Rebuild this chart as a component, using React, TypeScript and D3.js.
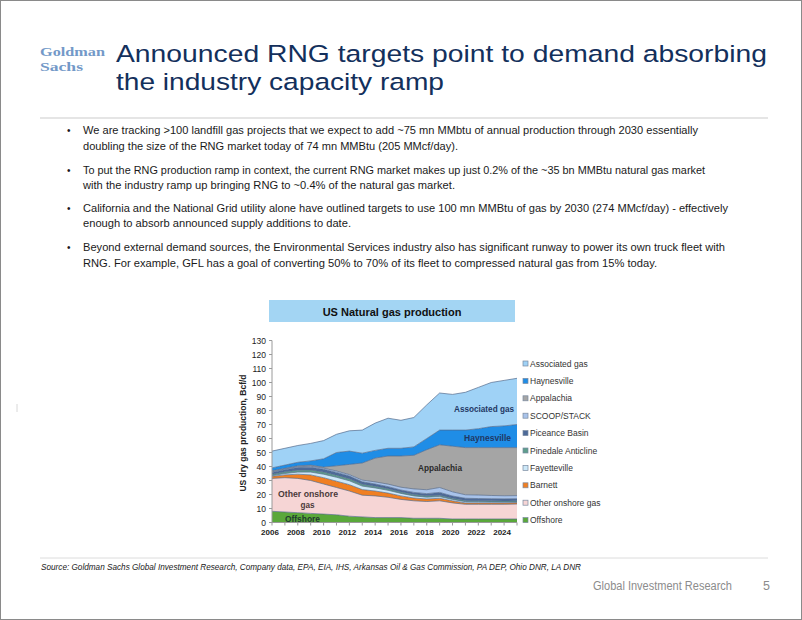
import React from "react";
import * as d3 from "d3";

const years = [2006, 2007, 2008, 2009, 2010, 2011, 2012, 2013, 2014, 2015, 2016, 2017, 2018, 2019, 2020, 2021, 2022, 2023, 2024, 2025];
const offshore = [8, 7.5, 7, 6.5, 6, 5.5, 4.5, 4, 3.5, 3.5, 3.5, 3, 3, 3, 2.5, 2.5, 2.5, 2.5, 2.5, 2.5];
const otherOnshore = [23.5, 24.5, 24.5, 23.5, 21.5, 19.5, 18, 15.5, 15.5, 14.5, 13, 12.5, 12, 12.5, 11.5, 10.5, 10.5, 10.5, 10.5, 10.7];
const barnett = [1.5, 2, 3, 4, 4.5, 4.5, 4.5, 4, 3.5, 3, 2.5, 2, 1.8, 1.8, 1.5, 1, 1, 1, 1, 1];
const fayetteville = [0.5, 1, 1.5, 2, 2.5, 2.8, 2.8, 2.5, 2.2, 2, 1.8, 1.5, 1.3, 1.2, 1, 0.9, 0.8, 0.7, 0.6, 0.5];
const pinedale = [1, 1.2, 1.4, 1.5, 1.5, 1.5, 1.4, 1.3, 1.2, 1.1, 1, 1, 1, 1, 0.9, 0.9, 0.8, 0.8, 0.8, 0.8];
const piceance = [1.2, 1.5, 1.8, 2, 2, 2, 2, 1.8, 1.6, 1.5, 1.4, 1.5, 1.5, 2, 1.5, 1.5, 1.5, 1.5, 1.5, 1.5];
const scoopStack = [0.5, 0.5, 0.6, 0.7, 0.8, 1, 1, 1.2, 1.5, 1.8, 2, 2.5, 2.8, 3.5, 3, 2.5, 2.5, 2.3, 2.2, 2.2];
const appalachia = [0.8, 0.5, 0.7, 0.8, 0.8, 3.7, 7.3, 12.2, 17, 20.1, 22.3, 24, 28.6, 30.5, 32.6, 33.7, 33.9, 34.2, 34.4, 34.3];
const haynesville = [2, 2.3, 2.5, 3, 5.9, 9.5, 9.5, 7, 5.5, 5.5, 5.5, 6, 8, 10.5, 11.5, 12.5, 13.5, 15, 15.5, 16.5];
const associatedGas = [12, 12, 12, 12.5, 13, 13, 14.5, 16.5, 19.5, 21.5, 20, 21, 24, 26.5, 25.5, 27, 29.5, 31.5, 32.5, 33];

const seriesNames = ["Offshore", "Other onshore gas", "Barnett", "Fayetteville", "Pinedale Anticline", "Piceance Basin", "SCOOP/STACK", "Appalachia", "Haynesville", "Associated gas"];
const seriesValues = [offshore, otherOnshore, barnett, fayetteville, pinedale, piceance, scoopStack, appalachia, haynesville, associatedGas];
const seriesColors = ["#5aa83a", "#f6d5d5", "#f07f22", "#cde8f8", "#5e9e8c", "#4d6a98", "#a9c3ea", "#a5a5a5", "#1f8de6", "#9fd2f6"];
const legendOrder = ["Associated gas", "Haynesville", "Appalachia", "SCOOP/STACK", "Piceance Basin", "Pinedale Anticline", "Fayetteville", "Barnett", "Other onshore gas", "Offshore"];
const yTicks = [0, 10, 20, 30, 40, 50, 60, 70, 80, 90, 100, 110, 120, 130];
const xTickLabels = [2006, 2008, 2010, 2012, 2014, 2016, 2018, 2020, 2022, 2024];

const titleLines = ["Announced RNG targets point to demand absorbing", "the industry capacity ramp"];
const bullets = [
  ["We are tracking >100 landfill gas projects that we expect to add ~75 mn MMbtu of annual production through 2030 essentially", "doubling the size of the RNG market today of 74 mn MMBtu (205 MMcf/day)."],
  ["To put the RNG production ramp in context, the current RNG market makes up just 0.2% of the ~35 bn MMBtu natural gas market", "with the industry ramp up bringing RNG to ~0.4% of the natural gas market."],
  ["California and the National Grid utility alone have outlined targets to use 100 mn MMBtu of gas by 2030 (274 MMcf/day) - effectively", "enough to absorb announced supply additions to date."],
  ["Beyond external demand sources, the Environmental Services industry also has significant runway to power its own truck fleet with", "RNG. For example, GFL has a goal of converting 50% to 70% of its fleet to compressed natural gas from 15% today."],
];
const bulletWidths = [[615, 375], [622, 372], [645, 268], [642, 574]];
const bulletY = [[134, 150], [174, 189], [212, 227], [251, 267]];
const sourceText = "Source: Goldman Sachs Global Investment Research, Company data, EPA, EIA, IHS, Arkansas Oil & Gas Commission, PA DEP, Ohio DNR, LA DNR";

const areaLabels = [
  { t: "Associated gas", x: 484, y: 412, w: 60, c: "#1f3864" },
  { t: "Haynesville", x: 487.5, y: 441, w: 47, c: "#1f3864" },
  { t: "Appalachia", x: 440, y: 471, w: 44, c: "#2a2a2a" },
  { t: "Other onshore", x: 308, y: 497, w: 60, c: "#4a3a3a" },
  { t: "gas", x: 307.5, y: 507.5, w: 14, c: "#4a3a3a" },
  { t: "Offshore", x: 302.5, y: 522, w: 35, c: "#1e3a30" },
];

export default function App() {
  const x = d3.scaleLinear().domain([2006, 2025]).range([272, 517]);
  const y = d3.scaleLinear().domain([0, 130]).range([522.5, 340.5]);
  const rows = years.map((yr, i) => {
    const r: any = { year: yr };
    seriesNames.forEach((n, k) => (r[n] = seriesValues[k][i]));
    return r;
  });
  const stacked = d3.stack().keys(seriesNames)(rows);
  const area = d3
    .area<any>()
    .x((d) => x(d.data.year))
    .y0((d) => y(d[0]))
    .y1((d) => y(d[1]));
  const topLine = d3
    .line<any>()
    .x((d) => x(d.data.year))
    .y((d) => y(d[1]));

  const font = "'Liberation Sans', Arial, sans-serif";

  return (
    <div style={{ position: "absolute", left: 0, top: 0 }}>
      <svg width={802} height={620} style={{ display: "block", background: "#fff" }}>
        <rect x={0.5} y={0.5} width={801} height={619} fill="#fff" stroke="#8a8a8a" strokeWidth={1} />
        {/* logo */}
        <text x={40} y={55.5} fontFamily="'Liberation Serif', serif" fontSize={13.5} fontWeight="bold" fill="#7399c8" textLength={65} lengthAdjust="spacingAndGlyphs">Goldman</text>
        <text x={40} y={70.5} fontFamily="'Liberation Serif', serif" fontSize={13.5} fontWeight="bold" fill="#7399c8" textLength={43} lengthAdjust="spacingAndGlyphs">Sachs</text>
        {/* title */}
        <text x={116} y={62} fontFamily={font} fontSize={24.5} fill="#13305c" textLength={651} lengthAdjust="spacingAndGlyphs">{titleLines[0]}</text>
        <text x={116} y={90} fontFamily={font} fontSize={24.5} fill="#13305c" textLength={328} lengthAdjust="spacingAndGlyphs">{titleLines[1]}</text>
        <line x1={40} x2={768} y1={118} y2={118} stroke="#dcdcdc" strokeWidth={1.5} />
        {/* bullets */}
        {bullets.map((b, i) => (
          <g key={i} fontFamily={font} fontSize={11} fill="#1a1a1a">
            <text x={67} y={bulletY[i][0]} fontSize={10}>•</text>
            {b.map((line, j) => (
              <text key={j} x={83} y={bulletY[i][j]} textLength={bulletWidths[i][j]} lengthAdjust="spacingAndGlyphs">{line}</text>
            ))}
          </g>
        ))}
        {/* chart title box */}
        <rect x={269} y={300} width={246} height={22} fill="#a3d5f3" />
        <text x={392} y={315.5} textAnchor="middle" fontFamily={font} fontSize={11} fontWeight="bold" fill="#111">US Natural gas production</text>
        {/* areas */}
        {stacked.map((s, k) => (
          <path key={s.key} d={area(s as any) || ""} fill={seriesColors[k]} />
        ))}
        {stacked.map((s, k) => (
          <path key={"l" + s.key} d={topLine(s as any) || ""} fill="none" stroke="#4f6688" strokeOpacity={0.75} strokeWidth={0.9} />
        ))}
        {/* axes */}
        <line x1={272} x2={272} y1={y(130)} y2={y(0)} stroke="#9a9a9a" />
        <line x1={272} x2={517} y1={y(0)} y2={y(0)} stroke="#9a9a9a" />
        {yTicks.map((t) => (
          <g key={t}>
            <line x1={269} x2={272} y1={y(t)} y2={y(t)} stroke="#9a9a9a" />
            <text x={266} y={y(t) + 3} textAnchor="end" fontFamily={font} fontSize={8.5} fill="#222">{t}</text>
          </g>
        ))}
        {years.map((yr) => (
          <line key={yr} x1={x(yr)} x2={x(yr)} y1={y(0)} y2={y(0) + 3} stroke="#9a9a9a" />
        ))}
        {xTickLabels.map((yr) => (
          <text key={yr} x={x(yr) - 2} y={535} textAnchor="middle" fontFamily={font} fontSize={8} fontWeight="bold" fill="#222">{yr}</text>
        ))}
        <text transform={`translate(246,433) rotate(-90)`} textAnchor="middle" fontFamily={font} fontSize={8.5} fontWeight="bold" fill="#222">US dry gas production, Bcf/d</text>
        {areaLabels.map((l, i) => (
          <text key={i} x={l.x - l.w / 2} y={l.y} fontFamily={font} fontSize={9} fontWeight="bold" fill={l.c} textLength={l.w} lengthAdjust="spacingAndGlyphs">{l.t}</text>
        ))}
        {/* legend */}
        {legendOrder.map((n, i) => {
          const k = seriesNames.indexOf(n);
          const ly = 363.5 + i * 17.4;
          return (
            <g key={n}>
              <rect x={523} y={ly - 2.5} width={5} height={5} fill={seriesColors[k]} stroke="#7a8aa0" strokeWidth={0.7} />
              <text x={530} y={ly + 3} fontFamily={font} fontSize={8.5} fill="#333">{n}</text>
            </g>
          );
        })}
        {/* source */}
        <line x1={40} x2={768} y1={558} y2={558} stroke="#dcdcdc" strokeWidth={1} />
        <text x={41} y={570} fontFamily={font} fontSize={8.5} fontStyle="italic" fill="#222" textLength={540} lengthAdjust="spacingAndGlyphs">{sourceText}</text>
        <text x={593} y={590} fontFamily={font} fontSize={12.5} fill="#8c8c8c" textLength={139} lengthAdjust="spacingAndGlyphs">Global Investment Research</text>
        <text x={763} y={590} fontFamily={font} fontSize={12.5} fill="#8c8c8c">5</text>
        <line x1={17} x2={17} y1={404} y2={412} stroke="#d8d8d8" strokeWidth={1} />
      </svg>
    </div>
  );
}
